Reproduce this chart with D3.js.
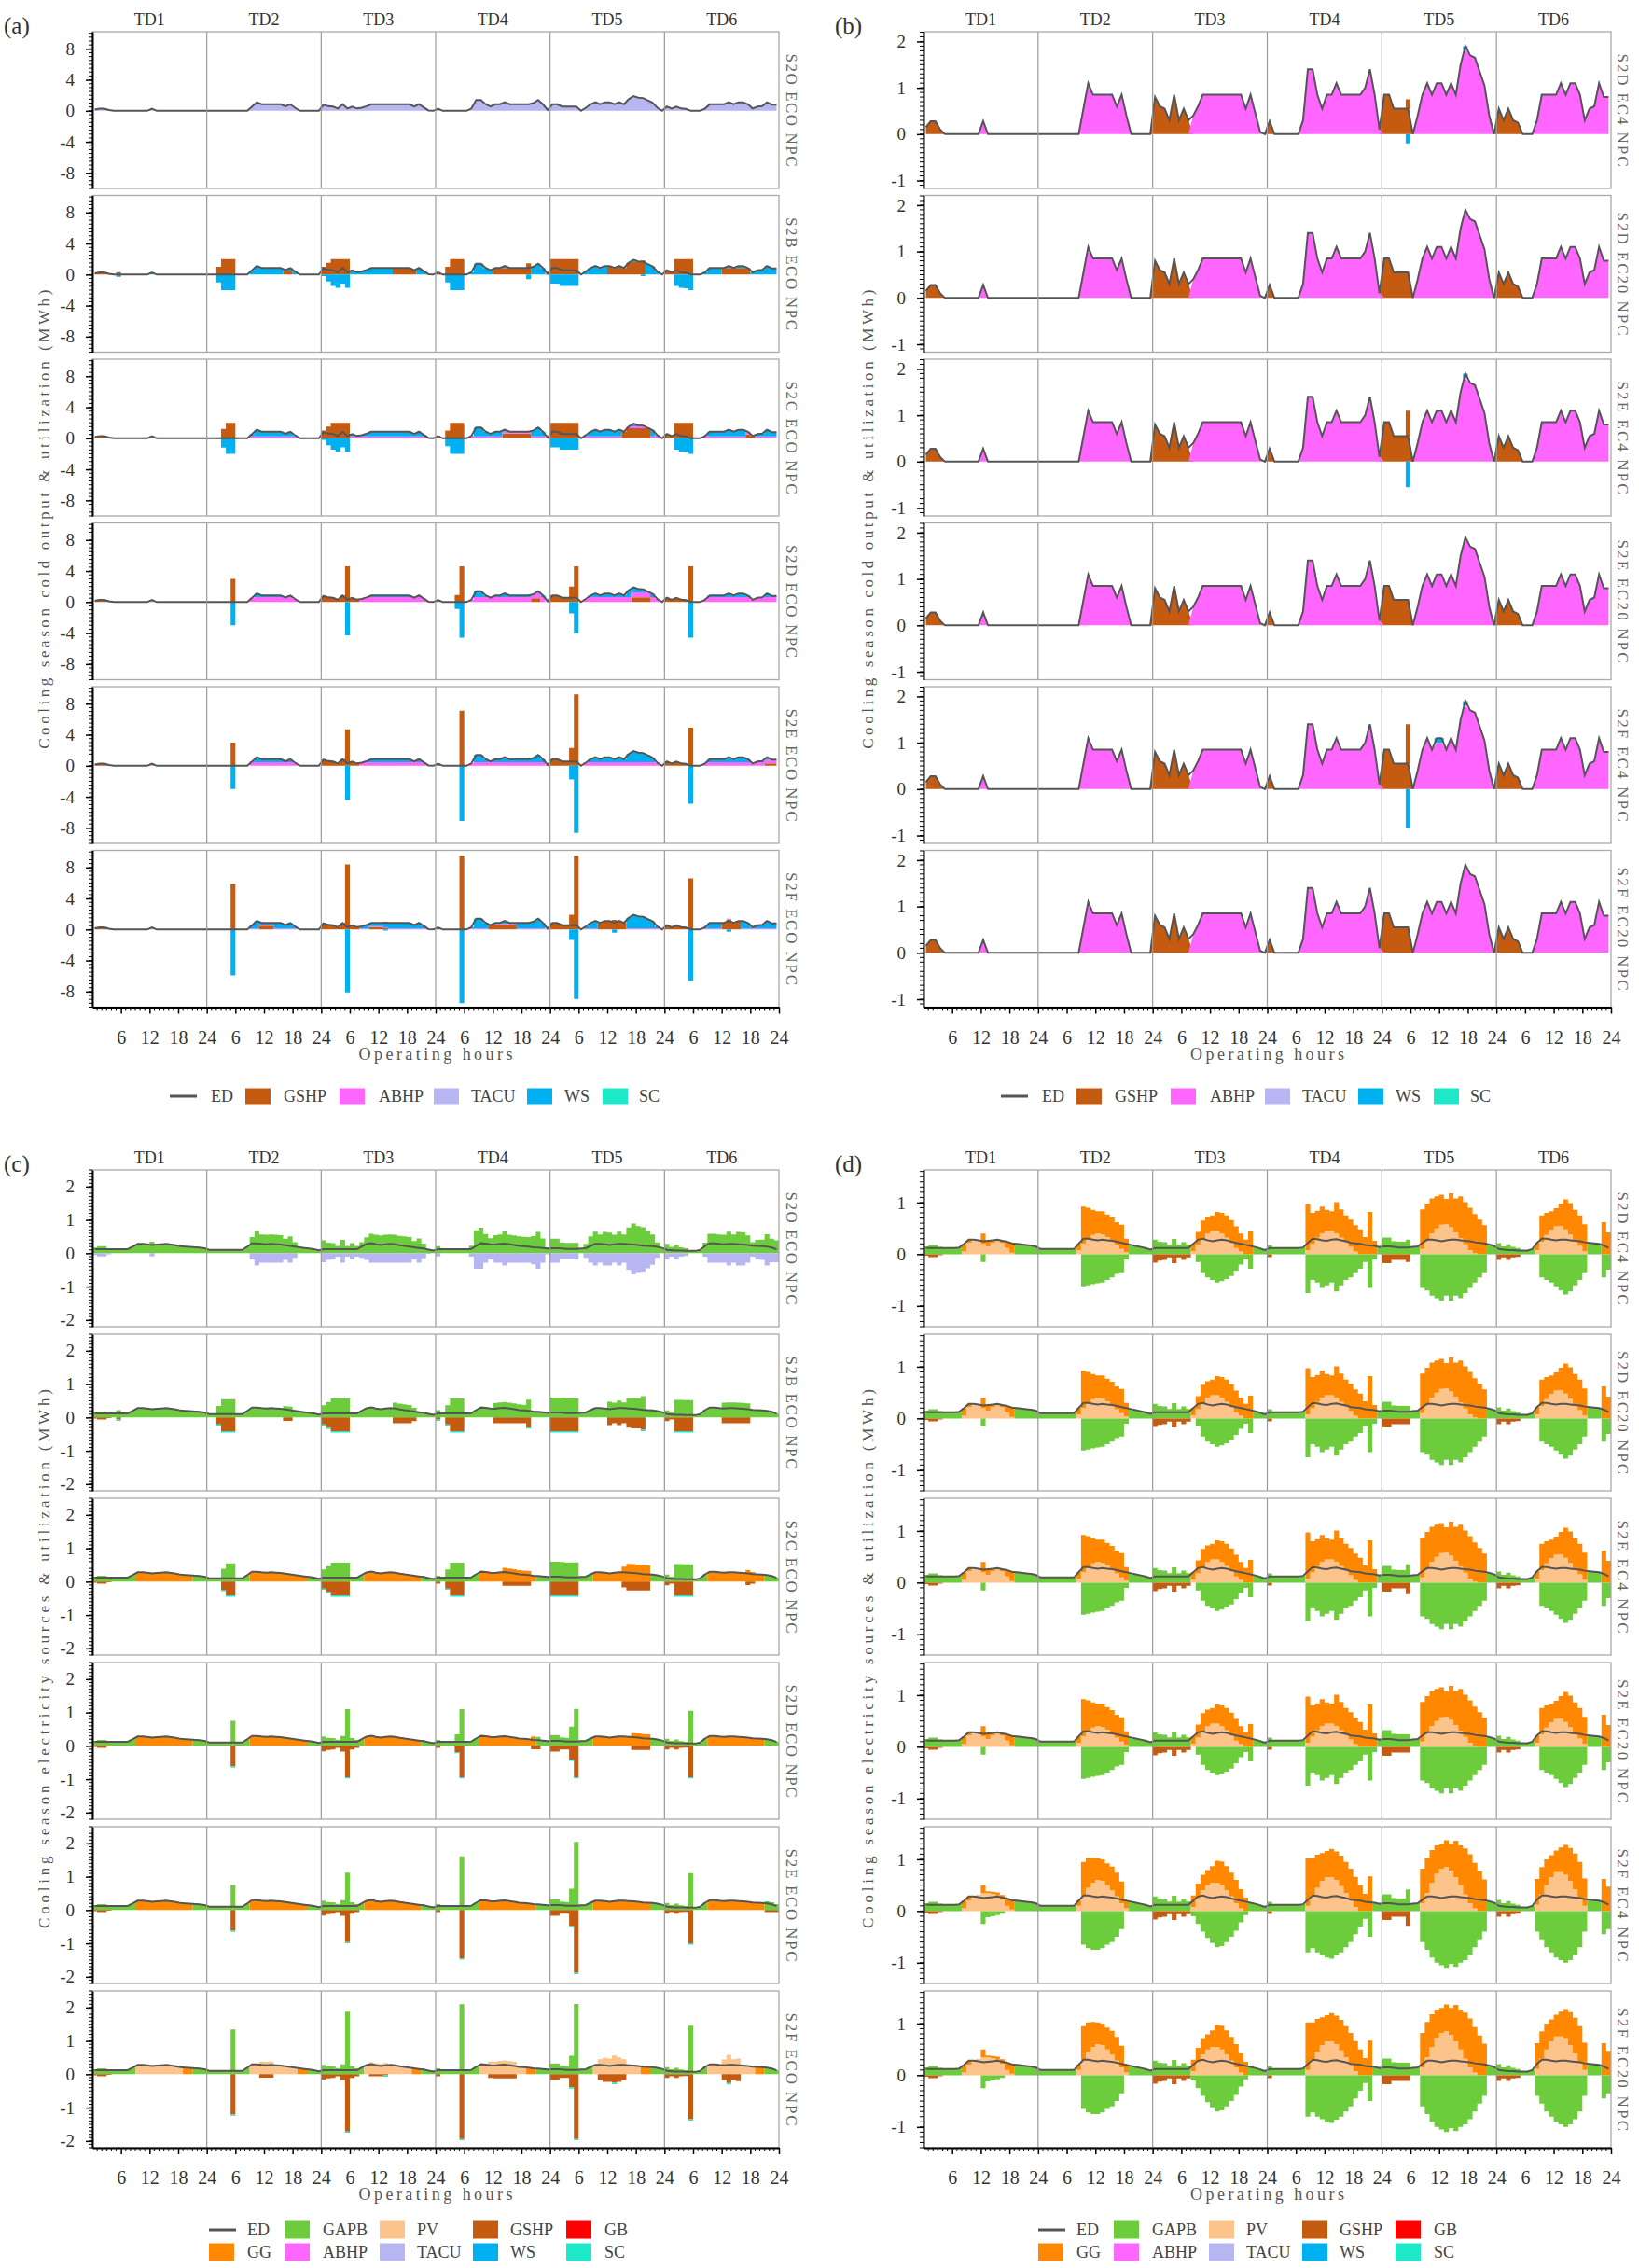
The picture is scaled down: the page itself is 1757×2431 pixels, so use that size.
<!DOCTYPE html>
<html><head><meta charset="utf-8">
<script src="https://cdn.jsdelivr.net/npm/d3@7"></script>
<style>body{margin:0;background:#fff}svg{display:block}</style>
</head><body>
<svg id="fig" xmlns="http://www.w3.org/2000/svg" width="1757" height="2431"></svg>
<script>
// ---------------- DATA ----------------
const tdNames = ["TD1","TD2","TD3","TD4","TD5","TD6"];
const hourTickLabels = [6,12,18,24];

// cooling demand ED (MWh), 6 typical days x 24 h
const coolED = [
 0.15,0.28,0.28,0.1,0,0,0,0,0,0,0,0,0.28,0,0,0,0,0,0,0,0,0,0,0,
 0,0,0,0,0,0,0,0,0,0.55,1.1,0.85,0.85,0.85,0.85,0.85,0.6,0.85,0.4,0,0,0,0,0,
 0.8,0.6,0.55,0.3,0.85,0.3,0.55,0.3,0.4,0.6,0.85,0.85,0.85,0.85,0.85,0.85,0.85,0.85,0.85,0.55,0.85,0.45,0.05,0,
 0.28,0,0,0,0,0,0,0.3,1.4,1.4,0.85,0.55,0.85,0.85,1.1,0.85,0.85,0.85,0.85,0.85,1.0,1.4,0.85,0.1,
 0.85,0.85,0.55,0.55,0.55,0.55,0,0.4,0.85,1.1,0.85,1.1,1.1,0.85,1.1,0.85,1.5,1.9,1.7,1.65,1.35,1.05,0.4,0,
 0.55,0.3,0.55,0.3,0.25,0,0,0,0.3,0.85,0.85,0.85,0.85,1.1,0.85,1.1,1.1,0.85,0.3,0.55,0.6,1.1,0.8,0.8
];
// electricity demand ED (MWh)
const elecED = [
 0.12,0.12,0.12,0.12,0.12,0.12,0.12,0.13,0.2,0.28,0.28,0.27,0.25,0.26,0.27,0.28,0.26,0.24,0.21,0.2,0.19,0.18,0.17,0.15,
 0.1,0.1,0.1,0.1,0.1,0.1,0.1,0.1,0.2,0.3,0.3,0.28,0.27,0.28,0.27,0.26,0.24,0.22,0.2,0.18,0.16,0.14,0.12,0.09,
 0.12,0.12,0.12,0.12,0.12,0.12,0.12,0.12,0.2,0.28,0.3,0.27,0.25,0.27,0.28,0.27,0.24,0.22,0.2,0.18,0.16,0.14,0.11,0.08,
 0.12,0.12,0.12,0.12,0.12,0.12,0.12,0.13,0.22,0.3,0.29,0.27,0.26,0.28,0.29,0.27,0.25,0.22,0.21,0.2,0.18,0.17,0.16,0.14,
 0.15,0.15,0.14,0.13,0.13,0.13,0.14,0.15,0.22,0.28,0.28,0.27,0.25,0.27,0.28,0.28,0.27,0.26,0.25,0.23,0.22,0.21,0.19,0.16,
 0.1,0.09,0.08,0.08,0.07,0.07,0.07,0.1,0.22,0.3,0.3,0.28,0.27,0.28,0.28,0.27,0.26,0.25,0.23,0.22,0.21,0.2,0.17,0.12
];
// leading night hours served by GSHP, per TD
const nightGSHPHours = [4,0,8,1,6,5];
const nightGSHPHoursStorage = [4,0,0,1,0,2];
// read-off ratios between cold output and electricity use
const COP_GSHP = 4.9, COP_TACU = 3.0, SC_AUX = 0.04;

// (a) storage charging hours: [TD, hour, GSHP output]
const aChargeS2B = [[0,5,0.3],[1,2,1.0],[1,3,2.0],[1,4,2.0],[1,5,2.0],[2,0,1.0],[2,1,1.5],[2,2,2.0],[2,3,2.0],[2,4,2.0],[2,5,2.0],[3,0,0.3],[3,2,1.0],[3,3,2.0],[3,4,2.0],[3,5,2.0],[4,0,2.0],[4,1,2.0],[4,2,2.0],[4,3,2.0],[4,4,2.0],[4,5,2.0],[5,2,2.0],[5,3,2.0],[5,4,2.0],[5,5,2.0]];
const aChargeS2C = [[1,3,1.2],[1,4,2.0],[1,5,2.0],[2,0,1.0],[2,1,1.5],[2,2,2.0],[2,3,2.0],[2,4,2.0],[2,5,2.0],[3,2,1.0],[3,3,2.0],[3,4,2.0],[3,5,2.0],[4,0,2.0],[4,1,2.0],[4,2,2.0],[4,3,2.0],[4,4,2.0],[4,5,2.0],[5,2,2.0],[5,3,2.0],[5,4,2.0],[5,5,2.0]];
const aChargeS2D = [[1,5,3.0],[2,5,4.6],[3,4,0.9],[3,5,4.6],[4,4,2.0],[4,5,4.6],[5,5,4.6]];
const aChargeS2E = [[1,5,3.0],[2,5,4.7],[3,5,7.1],[4,4,2.3],[4,5,9.2],[5,5,4.9]];
const aChargeS2F = [[1,5,5.9],[2,5,8.4],[3,5,9.5],[4,4,1.9],[4,5,9.5],[5,5,6.6]];
// (a) daytime GSHP blocks: [TD, fromHour, toHour, level]
const aDayGS2B = [[1,16,17,0.5],[2,15,19,0.85],[3,12,19,0.85],[4,12,19,1.6],[5,12,17,0.85]];
const aDayGS2C = [[3,14,19,0.6],[4,15,20,1.3],[5,17,18,0.5]];
const aDayGS2D = [[3,20,21,0.5],[4,17,20,0.6]];
const aDayGS2E = [[5,21,23,0.3]];
const aDayGS2F = [[1,11,13,0.5],[2,10,12,0.3],[3,11,16,0.6],[4,10,15,1.3],[5,12,15,1.0]];
// (a) daytime ABHP level per row
const aABHPLevel = [0,0,0.25,0.65,0.45,0.12];
// (a) short storage charging within the day: [TD, hour, amount]
const aExtraS2B = [[3,19,0.6],[4,19,0.2]];
const aExtraS2F = [[2,13,0.15],[4,13,0.4],[5,13,0.3]];

// (b) extra GSHP charging [TD,hour,amount] and WS discharge [TD,hour,amount]
const bExtraS2DEC4 = [[4,5,0.2]], bExtraS2EEC4 = [[4,5,0.55]], bExtraS2FEC4 = [[4,5,0.85]];
const bWSS2DEC4 = [[4,17,0.08]], bWSS2EEC4 = [[4,17,0.1]], bWSS2FEC4 = [[4,11,0.1],[4,12,0.1],[4,17,0.1]];

// (c) supply windows (hours)
const ggHours = [9,20], pvHours = [9,18], ggAfterPV = [19,20];

// (d) PV output and GAPB utilization (negative), S2D/S2E rows
const dPV = [
 0,0,0,0,0,0,0,0,0.05,0.22,0.28,0.26,0.2,0.15,0.22,0.25,0.22,0.12,0.03,0,0,0,0,0,
 0,0,0,0,0,0,0,0,0.08,0.2,0.3,0.37,0.4,0.38,0.33,0.26,0.18,0.1,0.04,0,0,0,0,0,
 0,0,0,0,0,0,0,0,0.06,0.18,0.3,0.4,0.45,0.45,0.4,0.32,0.22,0.12,0.05,0,0,0,0,0,
 0,0,0,0,0,0,0,0,0.08,0.2,0.32,0.4,0.45,0.45,0.4,0.32,0.23,0.14,0.05,0,0,0,0,0,
 0,0,0,0,0,0,0,0,0.1,0.26,0.4,0.5,0.57,0.58,0.52,0.42,0.31,0.19,0.08,0.02,0,0,0,0,
 0,0,0,0,0,0,0,0,0.08,0.24,0.37,0.47,0.54,0.55,0.48,0.38,0.27,0.16,0.06,0,0,0,0,0
];
const dGAPBn = [
 0,0,0,0,0,0,0,0,0,0,0,0,-0.15,0,0,0,0,0,0,0,0,0,0,0,
 0,0,0,0,0,0,0,0,0,-0.62,-0.6,-0.58,-0.56,-0.55,-0.5,-0.45,-0.38,-0.35,-0.1,0,0,0,0,0,
 0,0,0,0,0,0,0,0,0,-0.15,-0.35,-0.45,-0.5,-0.55,-0.52,-0.48,-0.42,-0.32,-0.2,-0.1,-0.28,0,0,0,
 0,0,0,0,0,0,0,0,-0.75,-0.5,-0.55,-0.65,-0.6,-0.55,-0.72,-0.6,-0.5,-0.45,-0.35,-0.28,-0.15,-0.65,-0.1,0,
 0,0,0,0,0,0,0,0,-0.65,-0.7,-0.8,-0.85,-0.9,-0.8,-0.9,-0.8,-0.85,-0.75,-0.65,-0.55,-0.45,-0.35,0,0,
 0,0,0,0,0,0,0,0,0,-0.45,-0.5,-0.55,-0.62,-0.7,-0.78,-0.72,-0.6,-0.5,-0.35,0,0,0,-0.45,-0.3
];
// (d) S2F rows
const fPV = [
 0,0,0,0,0,0,0,0,0.05,0.2,0.28,0.32,0.35,0.35,0.33,0.3,0.22,0.1,0.03,0,0,0,0,0,
 0,0,0,0,0,0,0,0,0.1,0.3,0.45,0.55,0.6,0.58,0.5,0.4,0.28,0.15,0.05,0,0,0,0,0,
 0,0,0,0,0,0,0,0,0.08,0.25,0.4,0.5,0.55,0.55,0.5,0.4,0.28,0.15,0.05,0,0,0,0,0,
 0,0,0,0,0,0,0,0,0.1,0.3,0.45,0.58,0.65,0.65,0.6,0.48,0.35,0.2,0.08,0,0,0,0,0,
 0,0,0,0,0,0,0,0,0.15,0.35,0.55,0.72,0.82,0.85,0.78,0.65,0.5,0.32,0.15,0.05,0,0,0,0,
 0,0,0,0,0,0,0,0,0.12,0.32,0.5,0.65,0.75,0.75,0.7,0.58,0.42,0.25,0.1,0,0,0,0,0
];
const fGAPBn = [
 0,0,0,0,0,0,0,0,0,0,0,0,-0.25,-0.12,-0.1,-0.08,-0.05,0,0,0,0,0,0,0,
 0,0,0,0,0,0,0,0,0,-0.65,-0.72,-0.75,-0.75,-0.72,-0.65,-0.6,-0.5,-0.35,0,0,0,0,0,0,
 0,0,0,0,0,0,0,0,-0.1,-0.25,-0.4,-0.52,-0.62,-0.7,-0.68,-0.6,-0.5,-0.38,-0.22,-0.08,0,0,0,0,
 0,0,0,0,0,0,0,0,-0.8,-0.72,-0.8,-0.85,-0.9,-0.92,-0.86,-0.8,-0.7,-0.6,-0.45,-0.3,-0.15,-0.5,0,0,
 0,0,0,0,0,0,0,0,-0.6,-0.75,-0.9,-1.0,-1.05,-1.1,-1.02,-1.08,-1.0,-0.95,-0.85,-0.7,-0.55,-0.4,0,0,
 0,0,0,0,0,0,0,0,-0.4,-0.55,-0.7,-0.8,-0.9,-0.95,-1.0,-0.95,-0.85,-0.7,-0.4,0,0,0,-0.45,-0.35
];

const rowsA = ["S2O ECO NPC","S2B ECO NPC","S2C ECO NPC","S2D ECO NPC","S2E ECO NPC","S2F ECO NPC"];
const rowsB = ["S2D EC4 NPC","S2D EC20 NPC","S2E EC4 NPC","S2E EC20 NPC","S2F EC4 NPC","S2F EC20 NPC"];

// ---------------- MODELS ----------------
const findAt = (list,td,h) => (list||[]).find(e=>e[0]===td&&e[1]===h);

const aCfg = [
 {tacu:true},
 {night:nightGSHPHoursStorage, charge:aChargeS2B, dayG:aDayGS2B, abhp:aABHPLevel[1], extra:aExtraS2B},
 {night:nightGSHPHoursStorage, charge:aChargeS2C, dayG:aDayGS2C, abhp:aABHPLevel[2]},
 {night:nightGSHPHours, charge:aChargeS2D, dayG:aDayGS2D, abhp:aABHPLevel[3]},
 {night:nightGSHPHours, charge:aChargeS2E, dayG:aDayGS2E, abhp:aABHPLevel[4]},
 {night:nightGSHPHours, charge:aChargeS2F, dayG:aDayGS2F, abhp:aABHPLevel[5], extra:aExtraS2F}
];
function modelA(cfg){
  return coolED.map((c,i)=>{
    const td=Math.floor(i/24), h=i%24;
    const o={GSHP:0,ABHP:0,TACU:0,WS:0,GSHPx:0,WSx:0,SC:0,charge:false};
    if(cfg.tacu){o.TACU=c;return o;}
    const ch=findAt(cfg.charge,td,h);
    if(ch){o.GSHP=ch[2];o.WS=c-ch[2];o.charge=true;}
    else if(h<cfg.night[td]){o.GSHP=c;}
    else{
      const dg=cfg.dayG.find(e=>e[0]===td&&h>=e[1]&&h<=e[2]);
      const g=dg?Math.min(c,dg[3]):0;
      const a=Math.min(c-g,cfg.abhp);
      o.GSHP=g;o.ABHP=a;o.WS=c-g-a;
    }
    const ex=findAt(cfg.extra,td,h);
    if(ex){o.GSHP+=ex[2];o.WSx=-ex[2];o.charge=true;}
    return o;
  });
}
const bCfg = [
 {extra:bExtraS2DEC4, ws:bWSS2DEC4},{},
 {extra:bExtraS2EEC4, ws:bWSS2EEC4},{},
 {extra:bExtraS2FEC4, ws:bWSS2FEC4},{}
];
function modelB(cfg){
  return coolED.map((c,i)=>{
    const td=Math.floor(i/24), h=i%24;
    const o={GSHP:0,ABHP:0,TACU:0,WS:0,GSHPx:0,WSx:0,SC:0};
    if(h<nightGSHPHours[td]) o.GSHP=c; else o.ABHP=c;
    const w=findAt(cfg.ws,td,h);
    if(w){o.WS=w[2];o.ABHP=Math.max(0,o.ABHP-w[2]);}
    const ex=findAt(cfg.extra,td,h);
    if(ex){o.GSHPx=ex[2];o.WSx=-ex[2];}
    return o;
  });
}
const cMode = ["tacu","gapb","gg","gg","gg","pv"];
function modelC(aData,mode){
  return aData.map((a,i)=>{
    const h=i%24, ed=elecED[i];
    const o={GAPB:0,PV:0,GG:0,ABHP:0,TACU:0,GSHP:0,GAPBn:0,WS:0,GB:0,SC:0};
    if(mode==="tacu"){o.TACU=-a.TACU/COP_TACU;o.GAPB=ed-o.TACU;return o;}
    o.GSHP=-(a.GSHP+a.GSHPx)/COP_GSHP;
    o.SC=a.charge?-SC_AUX:0;
    const need=ed-o.GSHP-o.SC;
    if(mode==="gg"&&h>=ggHours[0]&&h<=ggHours[1]) o.GG=need;
    else if(mode==="pv"&&h>=pvHours[0]&&h<=pvHours[1]) o.PV=need;
    else if(mode==="pv"&&h>=ggAfterPV[0]&&h<=ggAfterPV[1]) o.GG=need;
    else o.GAPB=need;
    return o;
  });
}
function modelD(bData,pv,gn){
  return bData.map((b,i)=>{
    const ed=elecED[i];
    const o={GAPB:0,PV:0,GG:0,ABHP:0,TACU:0,GSHP:0,GAPBn:0,WS:0,GB:0,SC:0};
    o.GSHP=-(b.GSHP+b.GSHPx)/COP_GSHP; o.GAPBn=gn[i];
    const need=ed-o.GSHP-o.GAPBn;
    if(pv[i]>0||gn[i]<0){o.PV=pv[i];o.GG=Math.max(0,need-pv[i]);}
    else o.GAPB=need;
    return o;
  });
}
const aData = aCfg.map(modelA);
const bData = bCfg.map(modelB);
const cData = aData.map((d,r)=>modelC(d,cMode[r]));
const dData = bData.map((d,r)=>r<4?modelD(d,dPV,dGAPBn):modelD(d,fPV,fGAPBn));

// ---------------- DRAWING ----------------
const COL={ED:"#555555",GSHP:"#c55a11",GSHPx:"#c55a11",ABHP:"#ff66ff",TACU:"#b7b5f2",WS:"#00b0f0",WSx:"#00b0f0",SC:"#1de9c9",
  GAPB:"#6dcc3c",GAPBn:"#6dcc3c",PV:"#fcc38b",GG:"#ff8800",GB:"#ff0000"};
const FONT="'Liberation Serif','DejaVu Serif',serif";
const svg=d3.select("#fig");
svg.append("rect").attr("width",1757).attr("height",2431).attr("fill","#fff");
const defs=svg.append("defs");

function drawPanel(P){
  const x=d3.scaleLinear().domain([0,144]).range([P.x0,P.x1]);
  const g=svg.append("g");
  g.append("text").attr("x",P.letterX).attr("y",P.top+2).text(P.letter)
    .attr("font-family",FONT).attr("font-size",25).attr("fill","#333");
  tdNames.forEach((t,k)=>g.append("text").attr("x",x(24*k+12)).attr("y",P.top-7)
    .attr("text-anchor","middle").attr("font-family",FONT).attr("font-size",18).attr("fill","#333").text(t));
  const nRows=P.rows.length;
  P.rows.forEach((row,r)=>{
    const top=P.top+r*P.period, bot=top+P.h;
    const y=d3.scaleLinear().domain(P.yDom).range([bot,top]);
    const cid=`cl${P.id}${r}`;
    defs.append("clipPath").attr("id",cid).append("rect")
      .attr("x",P.x0).attr("y",top).attr("width",P.x1-P.x0).attr("height",P.h);
    const pg=g.append("g").attr("clip-path",`url(#${cid})`);
    let input=row.data;
    if(P.step) input=input.concat([input[input.length-1]]);
    const series=d3.stack().keys(P.keys).offset(d3.stackOffsetDiverging)(input);
    series.forEach(s=>{
      if(s.every(d=>Math.abs(d[1]-d[0])<1e-9)) return;
      const blocky=row.blocky||(P.stepKeys||[]).includes(s.key);
      const curve=P.step?d3.curveStepAfter:(blocky?d3.curveStep:d3.curveLinear);
      const area=d3.area().x((d,j)=>P.step?x(j):x(j+0.5)).y0(d=>y(d[0])).y1(d=>y(d[1])).curve(curve);
      pg.append("path").attr("d",area(s)).attr("fill",COL[s.key]);
    });
    const line=d3.line().x((d,j)=>x(j+0.5)).y(d=>y(d));
    pg.append("path").attr("d",line(row.ed)).attr("fill","none").attr("stroke",COL.ED).attr("stroke-width",2);
    for(let k=1;k<6;k++) g.append("line").attr("x1",x(24*k)).attr("x2",x(24*k)).attr("y1",top).attr("y2",bot)
      .attr("stroke","#999").attr("stroke-width",1.2);
    g.append("rect").attr("x",P.x0).attr("y",top).attr("width",P.x1-P.x0).attr("height",P.h)
      .attr("fill","none").attr("stroke","#aaa").attr("stroke-width",1.3);
    // left axis
    const ax=g.append("g").attr("transform",`translate(${P.x0},0)`)
      .call(d3.axisLeft(y).tickValues(P.yMajor).tickSize(7).tickSizeOuter(0).tickPadding(12).tickFormat(d=>String(d)));
    ax.attr("font-family",FONT).attr("font-size",19);
    ax.select(".domain").attr("stroke","#000").attr("stroke-width",2);
    ax.selectAll(".tick line").attr("stroke","#000").attr("stroke-width",1.5);
    ax.selectAll("text").attr("fill","#333");
    P.yMinor.forEach(v=>g.append("line").attr("x1",P.x0-4).attr("x2",P.x0).attr("y1",y(v)).attr("y2",y(v))
      .attr("stroke","#000").attr("stroke-width",1));
    // row label
    const cy=(top+bot)/2;
    g.append("text").attr("transform",`translate(${P.rowLabX},${cy}) rotate(90)`).attr("text-anchor","middle")
      .attr("font-family",FONT).attr("font-size",17).attr("fill","#666")
      .attr("textLength",row.label.length*11).attr("lengthAdjust","spacing").text(row.label);
    if(r===nRows-1){
      const bx=g.append("g").attr("transform",`translate(0,${bot})`)
        .call(d3.axisBottom(x).tickValues(d3.range(6,145,6)).tickSize(7).tickSizeOuter(0).tickPadding(18)
          .tickFormat(v=>String(hourTickLabels[((v/6)-1)%4])));
      bx.attr("font-family",FONT).attr("font-size",20);
      bx.select(".domain").attr("stroke","#000").attr("stroke-width",2);
      bx.selectAll(".tick line").attr("stroke","#000").attr("stroke-width",1.5);
      bx.selectAll("text").attr("fill","#333");
      d3.range(1,144).filter(v=>v%6!==0).forEach(v=>g.append("line").attr("x1",x(v)).attr("x2",x(v))
        .attr("y1",bot).attr("y2",bot+4).attr("stroke","#000").attr("stroke-width",1));
      g.append("text").attr("x",(P.x0+P.x1)/2).attr("y",bot+56).attr("text-anchor","middle")
        .attr("font-family",FONT).attr("font-size",18).attr("fill","#555")
        .attr("textLength",165).attr("lengthAdjust","spacing").text("Operating hours");
    }
  });
  const last=P.top+(nRows-1)*P.period+P.h;
  const cyAll=(P.top+last)/2;
  g.append("text").attr("transform",`translate(${P.ylabX},${cyAll}) rotate(-90)`).attr("text-anchor","middle")
    .attr("font-family",FONT).attr("font-size",17).attr("fill","#555")
    .attr("textLength",P.ylabel.length*10.7).attr("lengthAdjust","spacing").text(P.ylabel);
  // legend
  P.legend.forEach(it=>{
    const X=it[2]+P.legDx, Y=it[4];
    if(it[0]==="line") g.append("line").attr("x1",X).attr("x2",X+29).attr("y1",Y).attr("y2",Y)
      .attr("stroke",COL.ED).attr("stroke-width",3);
    else g.append("rect").attr("x",X).attr("y",Y-P.boxH/2).attr("width",27).attr("height",P.boxH).attr("fill",COL[it[1]]);
    g.append("text").attr("x",it[3]+P.legDx).attr("y",Y+6).attr("font-family",FONT).attr("font-size",18)
      .attr("fill","#444").text(it[1]);
  });
}

const keysAB=["GSHP","ABHP","TACU","WS","GSHPx","WSx","SC"];
const keysCD=["GAPB","PV","GG","ABHP","TACU","GSHP","GAPBn","WS","GB","SC"];
const legAB=[["line","ED",182,226,1175],["box","GSHP",263,304,1175],["box","ABHP",364,406,1175],
  ["box","TACU",465,505,1175],["box","WS",565,605,1175],["box","SC",646,685,1175]];
const legCD=[["line","ED",224,265,2390],["box","GAPB",305,346,2390],["box","PV",407,447,2390],["box","GSHP",507,547,2390],["box","GB",607,648,2390],
  ["box","GG",224,265,2414],["box","ABHP",305,346,2414],["box","TACU",407,447,2414],["box","WS",507,547,2414],["box","SC",607,648,2414]];
const minorTicks=(a,b,s)=>d3.range(Math.round(a/s),Math.round(b/s)+1).map(v=>+(v*s).toFixed(2));
const ylabA="Cooling season cold output & utilization (MWh)";
const ylabC="Cooling season electricity sources & utilization (MWh)";

drawPanel({id:"a",x0:99,x1:835,top:34,period:175.5,h:168,yDom:[-10,10.2],yMajor:[-8,-4,0,4,8],
  yMinor:minorTicks(-10,10,0.5),step:false,keys:keysAB,letter:"(a)",letterX:4,ylabX:53,ylabel:ylabA,rowLabX:843,
  rows:aData.map((d,r)=>({data:d,ed:coolED,label:rowsA[r],blocky:r>0})),legend:legAB,legDx:0,boxH:17});
drawPanel({id:"b",x0:990,x1:1727,top:34,period:175.5,h:168,yDom:[-1.17,2.21],yMajor:[-1,0,1,2],
  yMinor:minorTicks(-1.1,2.2,0.1),step:false,keys:keysAB,stepKeys:["GSHPx","WSx","WS"],letter:"(b)",letterX:895,ylabX:936,ylabel:ylabA,rowLabX:1734,
  rows:bData.map((d,r)=>({data:d,ed:coolED,label:rowsB[r]})),legend:legAB,legDx:891,boxH:17});
drawPanel({id:"c",x0:99,x1:835,top:1254,period:176,h:168,yDom:[-2.2,2.5],yMajor:[-2,-1,0,1,2],
  yMinor:minorTicks(-2.2,2.5,0.1),step:true,keys:keysCD,letter:"(c)",letterX:4,ylabX:53,ylabel:ylabC,rowLabX:843,
  rows:cData.map((d,r)=>({data:d,ed:elecED,label:rowsA[r]})),legend:legCD,legDx:0,boxH:19});
drawPanel({id:"d",x0:990,x1:1727,top:1254,period:176,h:168,yDom:[-1.4,1.63],yMajor:[-1,0,1],
  yMinor:minorTicks(-1.4,1.6,0.1),step:true,keys:keysCD,letter:"(d)",letterX:895,ylabX:936,ylabel:ylabC,rowLabX:1734,
  rows:dData.map((d,r)=>({data:d,ed:elecED,label:rowsB[r]})),legend:legCD,legDx:889,boxH:19});
</script>
</body></html>
